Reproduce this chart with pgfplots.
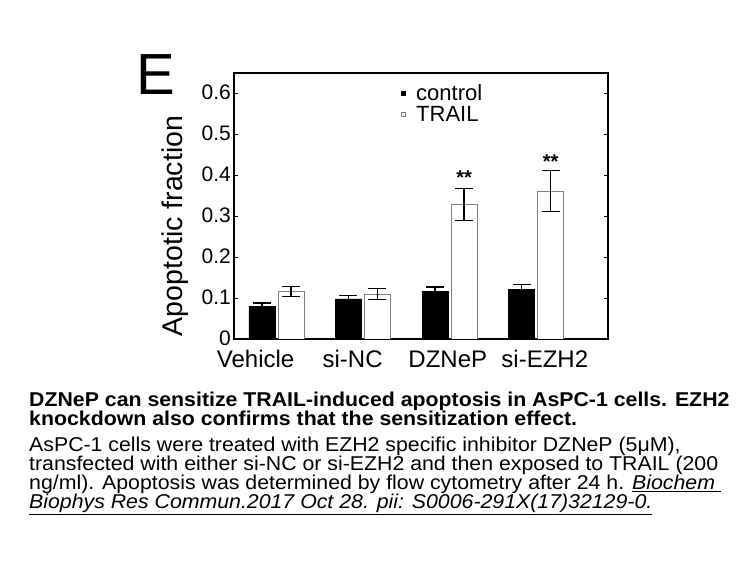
\documentclass[border=0pt]{standalone}
\usepackage{pgfplots}
\pgfplotsset{compat=1.18}
\usepackage{fontspec}
\setmainfont{Liberation Sans}
\newfontfamily\capfont[FakeStretch=1.065]{Liberation Sans}
\begin{document}
\begin{tikzpicture}
\fill[white] (0,0) rectangle (756pt,567pt);
\path[use as bounding box] (0,0) rectangle (756pt,567pt);
\begin{axis}[
  at={(234pt,228pt)}, anchor=south west,
  scale only axis, width=374pt, height=266pt,
  xmin=0.51, xmax=4.83, ymin=0, ymax=0.65,
  ybar=3pt, bar width=26pt,
  axis line style={line width=1.6pt},
  ytick={0,0.1,0.2,0.3,0.4,0.5,0.6},
  yticklabels={0,0.1,0.2,0.3,0.4,0.5,0.6},
  y tick style={line width=1pt, black},
  major tick length=4pt, tick align=inside,
  xtick={0.76,1.88,2.98,4.10},
  xticklabels={Vehicle,si-NC,DZNeP,si-EZH2},
  x tick style={draw=none},
  yticklabel style={font=\fontsize{21}{21}\selectfont, inner xsep=3pt, inner ysep=0pt, yshift=1pt},
  xticklabel style={font=\fontsize{24}{24}\selectfont, inner ysep=0pt, text height=17.5pt, text depth=5pt, yshift=-11pt},
  ylabel={Apoptotic fraction},
  ylabel style={font=\fontsize{28.5}{28.5}\selectfont, at={(axis description cs:-0.158,0.425)}, anchor=center},
  legend style={at={(0.437,0.885)}, anchor=west, draw=none, fill=none,
    font=\fontsize{22}{22}\selectfont, nodes={inner xsep=4pt, inner ysep=1pt}, row sep=2pt,
    /tikz/every odd column/.append style={column sep=7pt}},
  legend cell align=left,
]
\addplot[fill=black, draw=black,
  legend image code/.code={\fill[black] (0pt,-2pt) rectangle (4pt,2pt);},
  error bars/.cd, y dir=both, y explicit,
  error bar style={line width=1.2pt, black},
  error mark options={rotate=90, mark size=9pt, line width=1.2pt, black}]
  coordinates {(1,0.080) +- (0,0.008) (2,0.098) +- (0,0.008) (3,0.116) +- (0,0.011) (4,0.121) +- (0,0.012)};
\addplot[fill=white, draw=gray, line width=0.8pt,
  legend image code/.code={\filldraw[fill=white, draw=gray, line width=0.6pt] (0pt,-2pt) rectangle (4pt,2pt);},
  error bars/.cd, y dir=both, y explicit,
  error bar style={line width=1.2pt, black},
  error mark options={rotate=90, mark size=9pt, line width=1.2pt, black}]
  coordinates {(1,0.116) +- (0,0.012) (2,0.110) +- (0,0.013) (3,0.329) +- (0,0.039) (4,0.361) +- (0,0.050)};
\legend{control,TRAIL}
\node[anchor=north, inner sep=0pt, font=\bfseries\fontsize{20}{20}\selectfont, xshift=14.5pt] at (axis cs:3,0.411) {**};
\node[anchor=north, inner sep=0pt, font=\bfseries\fontsize{20}{20}\selectfont, xshift=14.5pt] at (axis cs:4,0.450) {**};
\end{axis}
\node[anchor=base west, inner sep=0pt, font=\fontsize{58}{58}\selectfont] at (136.5pt,472pt) {E};
\begin{scope}[every node/.style={anchor=base west, inner sep=0pt}]
\node[font=\capfont\bfseries\fontsize{20}{20}\selectfont] at (29pt,160pt) {DZNeP can sensitize TRAIL-induced apoptosis in AsPC-1 cells. EZH2};
\node[font=\capfont\bfseries\fontsize{20}{20}\selectfont] at (29pt,141pt) {knockdown also confirms that the sensitization effect.};
\node[font=\capfont\fontsize{20}{20}\selectfont] at (29pt,115pt) {AsPC-1 cells were treated with EZH2 specific inhibitor DZNeP (5μM),};
\node[font=\capfont\fontsize{20}{20}\selectfont] at (29pt,96pt) {transfected with either si-NC or si-EZH2 and then exposed to TRAIL (200};
\node[font=\capfont\fontsize{20}{20}\selectfont] at (29pt,77pt) {ng/ml). Apoptosis was determined by flow cytometry after 24 h. \underline{\itshape Biochem\ }};
\node[font=\capfont\fontsize{20}{20}\selectfont] at (29pt,58pt) {\underline{\itshape Biophys Res Commun.2017 Oct 28. pii: S0006-291X(17)32129-0.}};
\end{scope}
\end{tikzpicture}
\end{document}
